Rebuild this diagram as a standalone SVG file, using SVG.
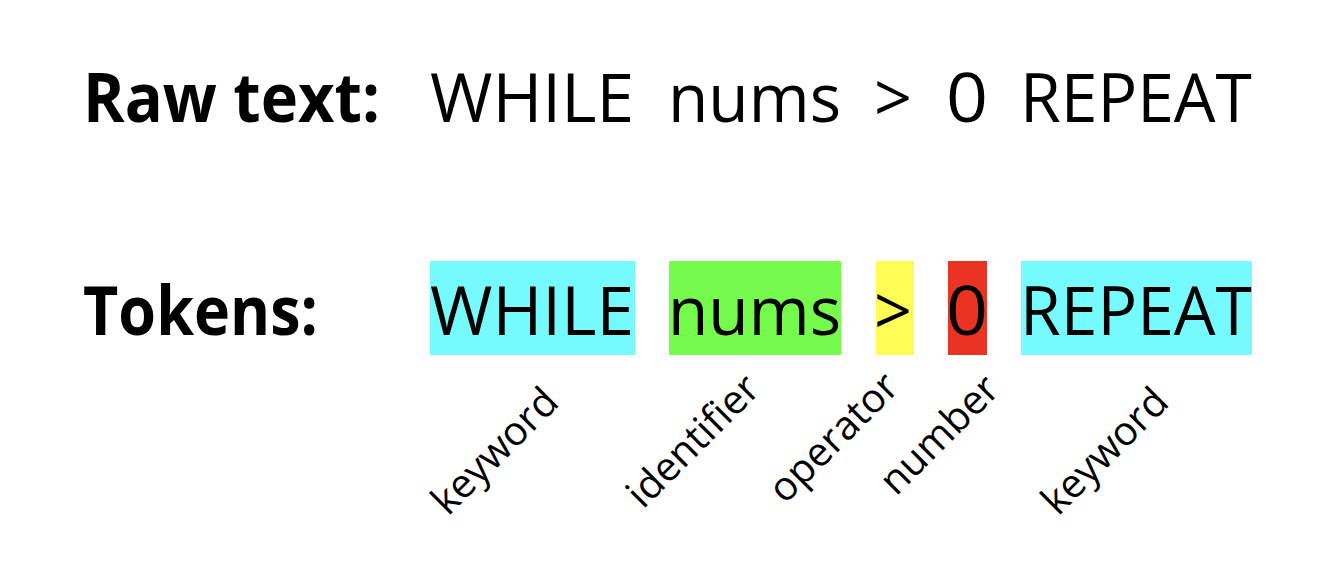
<svg xmlns="http://www.w3.org/2000/svg" width="1340" height="582" viewBox="0 0 1340 582">
<style>
.h{font-family:"Open Sans","Liberation Sans",sans-serif;font-weight:bold;font-size:68px;fill:#000}
.w{font-family:"Open Sans","Liberation Sans",sans-serif;font-size:68px;fill:#000}
.l{font-family:"Open Sans","Liberation Sans",sans-serif;font-size:40px;fill:#000}
.kw{fill:#75FBFD}.id{fill:#75FB4C}.op{fill:#FFFD55}.nu{fill:#EA3323}
</style>
<rect width="1340" height="582" fill="#fff"/>
<g id="raw">
<text class="h" x="83" y="122" textLength="297" lengthAdjust="spacingAndGlyphs">Raw text:</text>
<text class="w" x="430" y="122" textLength="204" lengthAdjust="spacingAndGlyphs">WHILE</text>
<text class="w" x="668" y="122" textLength="173" lengthAdjust="spacingAndGlyphs">nums</text>
<text class="w" x="874" y="122" textLength="38" lengthAdjust="spacingAndGlyphs">&gt;</text>
<text class="w" x="946" y="122" textLength="42" lengthAdjust="spacingAndGlyphs">0</text>
<text class="w" x="1020" y="122" textLength="232" lengthAdjust="spacingAndGlyphs">REPEAT</text>
</g>
<g id="tokens-label">
<text class="h" x="83" y="335" textLength="235" lengthAdjust="spacingAndGlyphs">Tokens:</text>
</g>
<g id="tok-while">
<rect class="kw" x="430" y="261" width="205" height="94"/>
<text class="w" x="430" y="335" textLength="204" lengthAdjust="spacingAndGlyphs">WHILE</text>
</g>
<g id="tok-nums">
<rect class="id" x="669" y="261" width="172" height="94"/>
<text class="w" x="668" y="335" textLength="173" lengthAdjust="spacingAndGlyphs">nums</text>
</g>
<g id="tok-gt">
<rect class="op" x="876" y="261" width="38" height="94"/>
<text class="w" x="874" y="335" textLength="38" lengthAdjust="spacingAndGlyphs">&gt;</text>
</g>
<g id="tok-zero">
<rect class="nu" x="948" y="261" width="39" height="94"/>
<text class="w" x="946" y="335" textLength="42" lengthAdjust="spacingAndGlyphs">0</text>
</g>
<g id="tok-repeat">
<rect class="kw" x="1021" y="261" width="231" height="94"/>
<text class="w" x="1020" y="335" textLength="232" lengthAdjust="spacingAndGlyphs">REPEAT</text>
</g>
<g id="labels">
<text class="l" transform="translate(448,517) rotate(-45)">keyword</text>
<text class="l" transform="translate(643,510) rotate(-45)">identifier</text>
<text class="l" transform="translate(785,505) rotate(-45)">operator</text>
<text class="l" transform="translate(896,497) rotate(-45)">number</text>
<text class="l" transform="translate(1058,517) rotate(-45)">keyword</text>
</g>
</svg>
